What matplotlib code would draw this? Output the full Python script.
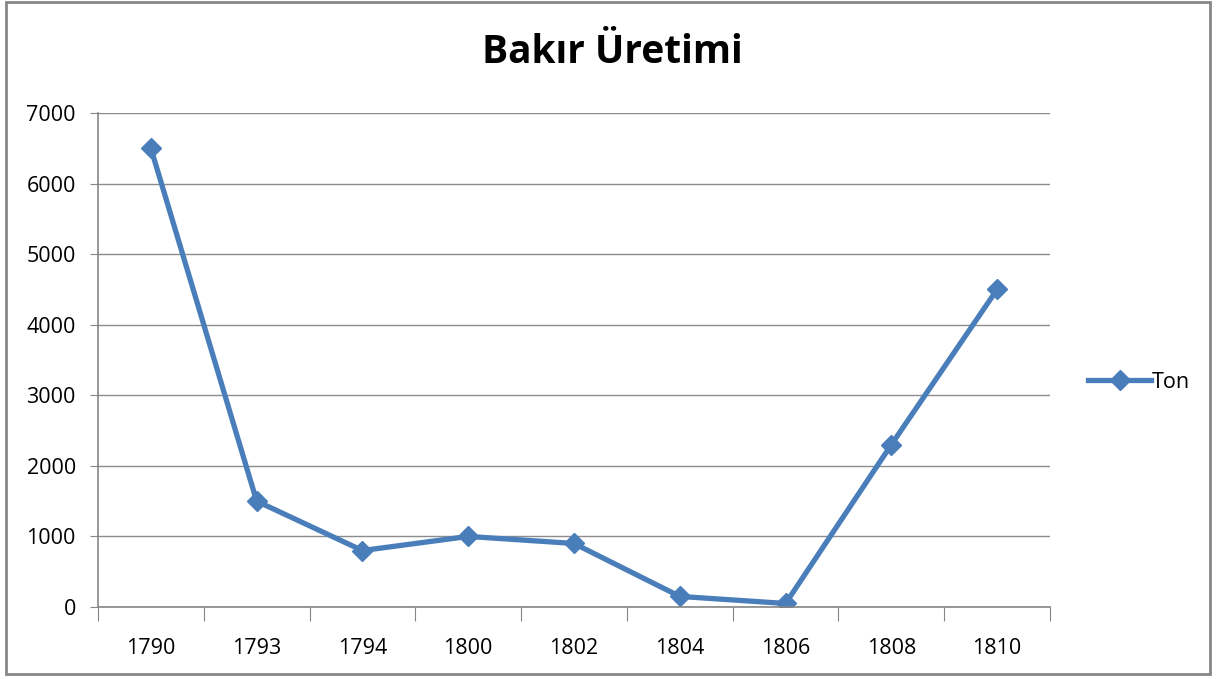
import matplotlib.pyplot as plt
from matplotlib.patches import Rectangle
import numpy as np

years = ['1790', '1793', '1794', '1800', '1802', '1804', '1806', '1808', '1810']
ton = [6500, 1500, 800, 1000, 900, 150, 50, 2300, 4500]

plt.rcParams['font.family'] = ['Open Sans', 'DejaVu Sans']

fig = plt.figure(figsize=(12.17, 6.79), dpi=100)
ax = fig.add_axes([98 / 1217, 1 - 607 / 679, (1050 - 98) / 1217, (607 - 113) / 679])

x = np.arange(len(years))
ax.plot(x, ton, color='#4A7EBB', lw=3.8, marker='D', markersize=10.5, label='Ton')

ax.set_xlim(-0.5, len(years) - 0.5)
ax.set_ylim(0, 7000)
ax.set_yticks(range(0, 7001, 1000))
ax.tick_params(axis='y', length=6, color='#868686', labelsize=15.5, pad=10)
ax.set_xticks(np.arange(-0.5, len(years), 1))
ax.set_xticklabels([])
ax.set_xticks(x, minor=True)
ax.set_xticklabels(years, minor=True)
ax.tick_params(axis='x', which='major', length=10, color='#868686', direction='out')
ax.tick_params(axis='x', which='minor', length=0, labelsize=15.5, pad=22)

ax.grid(axis='y', color='#8c8c8c', lw=1)
ax.set_axisbelow(True)
for s in ['top', 'right']:
    ax.spines[s].set_visible(False)
for s in ['left', 'bottom']:
    ax.spines[s].set_color('#868686')
    ax.spines[s].set_linewidth(1.2)

fig.text(0.503, 0.922, 'Bakır Üretimi', ha='center', va='center', fontsize=28, fontweight='bold')

ax.legend(loc='center left', bbox_to_anchor=(1.02, 0.455), frameon=False, fontsize=15.5,
          handlelength=2.9, handletextpad=0.05)

fig.patches.append(Rectangle((6 / 1217, 5 / 679), 1204 / 1217, 672 / 679, transform=fig.transFigure,
                             fill=False, edgecolor='#868686', lw=2))

fig.savefig('out.png', dpi=100)
